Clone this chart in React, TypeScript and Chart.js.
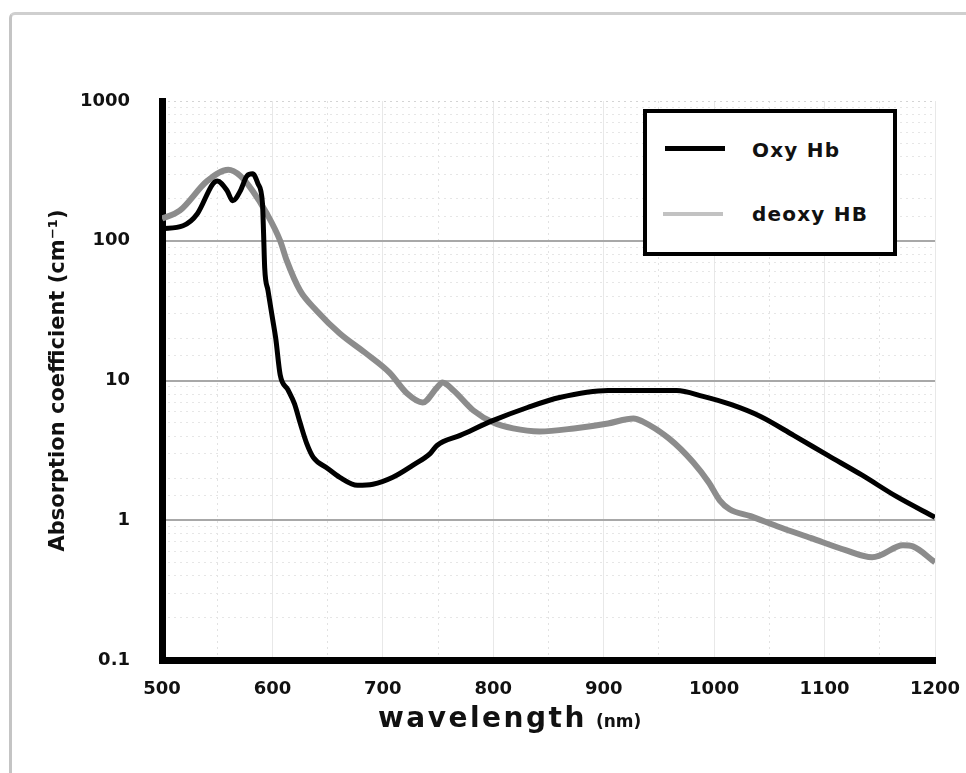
import React, { useEffect, useRef } from "react";
import { Chart, registerables } from "chart.js";

Chart.register(...registerables);

const seriesLabels = ["Oxy Hb", "deoxy HB"];

const oxyWavelength = [
  500, 519, 532, 546, 550, 559, 564, 571, 577, 582,
  587, 591, 592, 593, 596, 600, 603, 607, 614, 620,
  625, 631, 637, 650, 661, 677, 691, 709, 727, 743,
  749, 770, 800, 831, 860, 904, 935, 966, 990, 1015,
  1042, 1072, 1103, 1134, 1165, 1200,
];
const oxyAbsorption = [
  122, 128, 156, 255, 268, 228, 193, 228, 291, 301,
  255, 184, 112, 64, 44, 28, 20, 11, 8.6, 6.8,
  5.0, 3.55, 2.82, 2.35, 2.03, 1.78, 1.81, 2.03, 2.47, 3.01,
  3.43, 4.05, 5.18, 6.41, 7.56, 8.48, 8.48, 8.48, 7.69, 6.74,
  5.53, 4.05, 2.91, 2.1, 1.48, 1.05,
];

const deoxyWavelength = [
  500, 516, 541, 560, 571, 582, 595, 607, 613, 625,
  640, 661, 684, 706, 722, 736, 749, 754, 764, 782,
  800, 818, 842, 873, 904, 927, 935, 959, 981, 995,
  1005, 1014, 1033, 1057, 1088, 1119, 1143, 1150, 1171, 1180,
  1200,
];
const deoxyAbsorption = [
  144, 164, 268, 322, 291, 228, 156, 100, 72, 44,
  31.6, 21.7, 15.8, 11.4, 8.07, 6.96, 8.9, 9.68, 8.48, 6.1,
  5.0, 4.54, 4.32, 4.54, 4.93, 5.35, 5.1, 3.85, 2.6, 1.87,
  1.39, 1.2, 1.07, 0.906, 0.744, 0.611, 0.544, 0.56, 0.663, 0.65,
  0.5,
];

const seriesColors = ["#000000", "#8c8c8c"];
const legendSampleColors = ["#000000", "#c2c2c2"];

const xTickValues = [500, 600, 700, 800, 900, 1000, 1100, 1200];
const yTickValues = [0.1, 1, 10, 100, 1000];
const yTickLabels = ["0.1", "1", "10", "100", "1000"];

const xTitle = "wavelength";
const xTitleUnit = "(nm)";
const yTitle = "Absorption coefficient (cm\u207B\u00B9)";

const FONT = "'DejaVu Sans', Verdana, sans-serif";

function decadeIndex(v: number): number {
  for (let i = 0; i < yTickValues.length; i++) {
    if (Math.abs(Math.log10(v) - Math.log10(yTickValues[i])) < 1e-6) return i;
  }
  return -1;
}

export default function App() {
  const ref = useRef<HTMLCanvasElement>(null);

  useEffect(() => {
    if (!ref.current) return;
    const chart = new Chart(ref.current, {
      type: "line",
      data: {
        datasets: [
          {
            label: seriesLabels[0],
            data: oxyWavelength.map((x, i) => ({ x, y: oxyAbsorption[i] })),
            borderColor: seriesColors[0],
            borderWidth: 5,
            pointRadius: 0,
            cubicInterpolationMode: "monotone",
            fill: false,
            xAxisID: "x",
            yAxisID: "y",
          },
          {
            label: seriesLabels[1],
            data: deoxyWavelength.map((x, i) => ({ x, y: deoxyAbsorption[i] })),
            borderColor: seriesColors[1],
            borderWidth: 6,
            pointRadius: 0,
            cubicInterpolationMode: "monotone",
            fill: false,
            xAxisID: "x",
            yAxisID: "y",
          },
        ],
      },
      options: {
        responsive: false,
        animation: false,
        devicePixelRatio: 1,
        layout: { padding: { left: 0, top: 101, right: 31, bottom: 0 } },
        plugins: { legend: { display: false }, tooltip: { enabled: false } },
        scales: {
          x: {
            type: "linear",
            position: "bottom",
            min: 500,
            max: 1200,
            ticks: {
              stepSize: 100,
              autoSkip: false,
              maxRotation: 0,
              padding: 19,
              color: "#111",
              font: { family: FONT, size: 18, weight: "bold" },
              callback: (v: any) => (xTickValues.includes(Number(v)) ? String(v) : ""),
            },
            grid: { drawTicks: false, color: "#e8e8e8", lineWidth: 1 },
            border: { display: true, color: "#000", width: 7 },
            afterFit: (s: any) => {
              s.height = 113;
              s.paddingLeft = 0;
              s.paddingRight = 0;
            },
          },
          x2: {
            type: "linear",
            position: "bottom",
            min: 500,
            max: 1200,
            ticks: { display: false, stepSize: 50 },
            grid: {
              drawTicks: false,
              lineWidth: 1,
              color: (ctx: any) =>
                ctx.tick && Math.round(ctx.tick.value) % 100 !== 0 ? "#e2e2e2" : "rgba(0,0,0,0)",
            },
            border: { display: false, dash: [2, 4] },
            afterFit: (s: any) => {
              s.height = 0;
              s.paddingLeft = 0;
              s.paddingRight = 0;
            },
          },
          y: {
            type: "logarithmic",
            position: "left",
            min: 0.1,
            max: 1000,
            ticks: {
              autoSkip: false,
              padding: 32,
              color: "#111",
              font: { family: FONT, size: 18, weight: "bold" },
              callback: (v: any) => {
                const i = decadeIndex(Number(v));
                return i >= 0 ? yTickLabels[i] : "";
              },
            },
            grid: {
              drawTicks: false,
              lineWidth: 2,
              color: (ctx: any) => {
                if (!ctx.tick) return "rgba(0,0,0,0)";
                const i = decadeIndex(ctx.tick.value);
                return i >= 1 && i <= 3 ? "#a8a8a8" : "rgba(0,0,0,0)";
              },
            },
            border: { display: true, color: "#000", width: 7 },
            title: {
              display: true,
              text: yTitle,
              color: "#111",
              font: { family: FONT, size: 21, weight: "bold" },
              padding: { top: 46, bottom: 0 },
            },
            afterFit: (s: any) => {
              s.width = 162;
            },
          },
          y2: {
            type: "logarithmic",
            position: "left",
            min: 0.1,
            max: 1000,
            ticks: { display: false },
            grid: {
              drawTicks: false,
              lineWidth: 1,
              color: (ctx: any) => {
                if (!ctx.tick) return "rgba(0,0,0,0)";
                const i = decadeIndex(ctx.tick.value);
                if (i === 4) return "#d4d4d4";
                return i === -1 ? "#e6e6e6" : "rgba(0,0,0,0)";
              },
            },
            border: { display: false, dash: [2, 4] },
            afterFit: (s: any) => {
              s.width = 0;
            },
          },
        },
      } as any,
    });
    return () => chart.destroy();
  }, []);

  return (
    <div
      style={{
        position: "fixed",
        left: 0,
        top: 0,
        width: 966,
        height: 773,
        overflow: "hidden",
        background: "#fff",
        fontFamily: FONT,
      }}
    >
      <div
        style={{
          position: "absolute",
          left: 9,
          top: 12,
          width: 980,
          height: 800,
          borderLeft: "3px solid #c4c4c4",
          borderTop: "3px solid #cfcfcf",
          borderTopLeftRadius: 6,
        }}
      />
      <canvas
        ref={ref}
        width={966}
        height={773}
        style={{ position: "absolute", left: 0, top: 0, width: 966, height: 773 }}
      />
      {/* legend */}
      <div
        style={{
          position: "absolute",
          left: 643,
          top: 109,
          width: 254,
          height: 147,
          boxSizing: "border-box",
          border: "4px solid #000",
          background: "#fff",
        }}
      />
      {seriesLabels.map((label, i) => (
        <React.Fragment key={label}>
          <div
            style={{
              position: "absolute",
              left: i === 0 ? 665 : 663,
              top: i === 0 ? 146 : 212,
              width: 60,
              height: i === 0 ? 5 : 4,
              background: legendSampleColors[i],
            }}
          />
          <div
            style={{
              position: "absolute",
              left: 752,
              top: i === 0 ? 138 : 202,
              lineHeight: "24px",
              fontSize: 20,
              fontWeight: "bold",
              letterSpacing: 1.2,
              color: "#111",
              whiteSpace: "nowrap",
            }}
          >
            {label}
          </div>
        </React.Fragment>
      ))}
      {/* x axis title */}
      <div
        style={{
          position: "absolute",
          left: 378,
          top: 704,
          display: "flex",
          alignItems: "baseline",
          whiteSpace: "nowrap",
          color: "#111",
          fontWeight: "bold",
          lineHeight: 1,
        }}
      >
        <span style={{ fontSize: 28, letterSpacing: 2.5 }}>{xTitle}</span>
        <span style={{ fontSize: 17, marginLeft: 9 }}>{xTitleUnit}</span>
      </div>
    </div>
  );
}
